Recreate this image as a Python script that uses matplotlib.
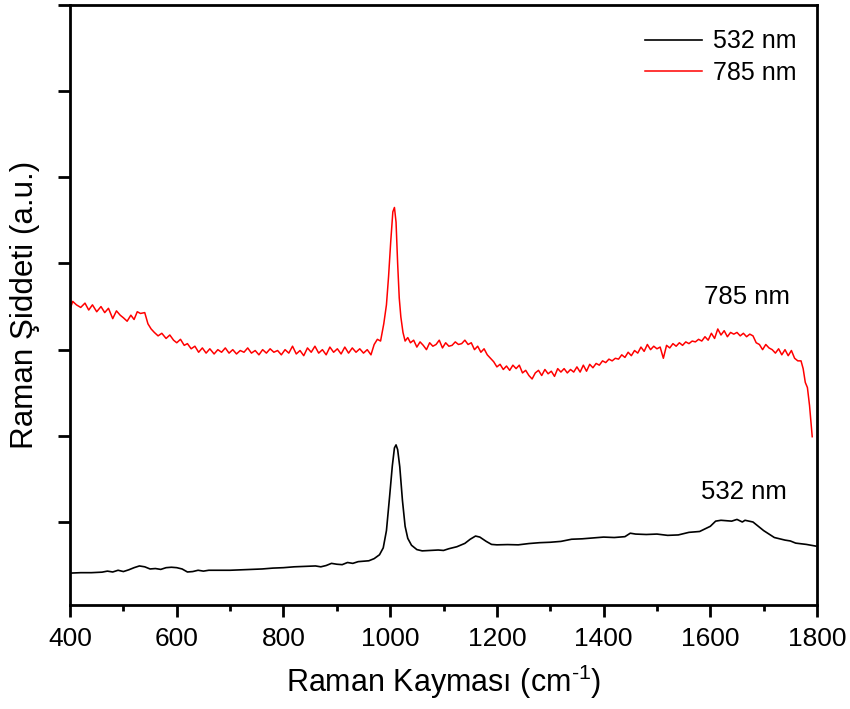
import matplotlib
matplotlib.use('Agg')
from matplotlib import pyplot as plt
from matplotlib.ticker import MultipleLocator, NullFormatter

# 532 nm spectrum (Raman shift cm-1, intensity a.u.)
shift_532 = [400, 420, 440, 460, 470, 480, 490, 500, 510, 520, 530, 540, 550, 560, 570,
             580, 590, 600, 610, 620, 630, 640, 650, 660, 680, 700, 720, 740, 760, 780,
             800, 820, 840, 860, 870, 880, 890, 900, 910, 920, 930, 940, 950, 960, 970,
             980, 987, 993, 999, 1004, 1008, 1011, 1014, 1018, 1023, 1028, 1033, 1040,
             1050, 1060, 1075, 1090, 1100, 1110, 1125, 1140, 1150, 1160, 1168, 1180, 1190,
             1200, 1220, 1240, 1260, 1280, 1300, 1320, 1340, 1360, 1380, 1400, 1420, 1440,
             1450, 1460, 1480, 1500, 1520, 1540, 1560, 1580, 1600, 1610, 1620, 1640, 1650,
             1660, 1665, 1680, 1690, 1700, 1710, 1720, 1740, 1750, 1760, 1780, 1798]
int_532 = [407, 412, 412, 418, 430, 420, 440, 425, 445, 470, 490, 480, 455, 460, 450,
           470, 475, 470, 455, 420, 425, 440, 430, 440, 440, 440, 445, 450, 455, 465,
           470, 480, 485, 490, 480, 495, 520, 510, 505, 530, 520, 540, 545, 550, 575,
           620, 700, 900, 1300, 1650, 1860, 1895, 1840, 1640, 1250, 950, 810, 730,
           680, 665, 670, 675, 670, 690, 713, 752, 800, 837, 825, 775, 740,
           735, 738, 735, 750, 760, 765, 775, 800, 805, 815, 825, 820, 830,
           870, 860, 855, 860, 845, 850, 880, 890, 950, 1010, 1020, 1010, 1030,
           1000, 1020, 1000, 950, 900, 860, 820, 790, 780, 755, 740, 720]

# 785 nm spectrum
shift_785 = [400, 405, 412, 420, 428, 435, 442, 450, 458, 465, 472, 480, 487, 494, 500,
             507, 514, 520, 526, 532, 540, 546, 552, 558, 565, 572, 580, 587, 594, 600,
             607, 614, 620, 627, 634, 641, 648, 655, 662, 670, 677, 684, 691, 698, 705,
             712, 719, 726, 733, 740, 747, 754, 761, 768, 775, 782, 789, 796, 803, 810,
             817, 824, 831, 838, 845, 852, 859, 866, 873, 880, 887, 894, 901, 908, 915,
             922, 929, 936, 943, 950, 957, 964, 970, 976, 982, 988, 993, 997, 1001, 1005,
             1008, 1011, 1014, 1017, 1020, 1024, 1028, 1033, 1038, 1044, 1050, 1056, 1062,
             1068, 1074, 1080, 1086, 1092, 1098, 1104, 1110, 1116, 1122, 1128, 1134, 1140,
             1146, 1152, 1158, 1164, 1170, 1176, 1182, 1188, 1194, 1200, 1206, 1212, 1218,
             1224, 1230, 1236, 1242, 1248, 1254, 1260, 1266, 1272, 1278, 1284, 1290, 1296,
             1302, 1308, 1314, 1320, 1326, 1332, 1338, 1344, 1350, 1356, 1362, 1368, 1374,
             1380, 1386, 1392, 1398, 1404, 1410, 1416, 1422, 1428, 1434, 1440, 1446, 1452,
             1458, 1464, 1470, 1476, 1482, 1488, 1494, 1500, 1506, 1512, 1518, 1524, 1530,
             1536, 1542, 1548, 1554, 1560, 1566, 1572, 1578, 1584, 1590, 1596, 1602, 1608,
             1614, 1620, 1626, 1632, 1638, 1644, 1650, 1656, 1662, 1668, 1674, 1680, 1686,
             1692, 1698, 1704, 1710, 1716, 1722, 1728, 1734, 1740, 1746, 1752, 1758, 1764,
             1770, 1774, 1778, 1782, 1786, 1791]
int_785 = [3470, 3560, 3520, 3490, 3540, 3460, 3520, 3440, 3500, 3430, 3480, 3360, 3450, 3400, 3370,
           3330, 3400, 3350, 3440, 3420, 3430, 3300, 3240, 3200, 3160, 3190, 3130, 3170, 3110, 3080,
           3120, 3050, 3070, 3010, 3040, 2970, 3020, 2960, 3010, 2950, 3000, 2970, 3020, 2960, 3000,
           2950, 2990, 2970, 3020, 2960, 2990, 2940, 3000, 2960, 3010, 2970, 2990, 2940, 3000, 2960,
           3040, 2950, 2990, 2930, 3020, 2970, 3040, 2960, 3000, 2940, 3030, 2970, 3010, 2950, 3030,
           2960, 3020, 2970, 3010, 2960, 3000, 2940, 3060, 3120, 3100, 3300, 3520, 3850, 4250, 4600,
           4650, 4480, 4000, 3600, 3380, 3200, 3100, 3140, 3080, 3110, 3030, 3090, 3050,
           3000, 3080, 3040, 3060, 3110, 3020, 3080, 3040, 3050, 3090, 3060, 3070, 3110,
           3060, 3080, 3000, 3040, 2970, 3010, 2940, 2900, 2860, 2800, 2830, 2770, 2810,
           2760, 2820, 2780, 2820, 2730, 2760, 2700, 2660, 2730, 2760, 2700, 2770, 2720,
           2750, 2690, 2780, 2740, 2780, 2730, 2770, 2740, 2800, 2740, 2820, 2750, 2830,
           2790, 2840, 2820, 2870, 2850, 2890, 2870, 2900, 2890, 2940, 2910, 2970, 2930,
           2990, 2960, 3030, 2980, 3060, 3000, 3040, 3010, 3030, 2900, 3050, 3020, 3070,
           3040, 3080, 3050, 3090, 3070, 3100, 3090, 3120, 3100, 3150, 3110, 3190, 3130,
           3240, 3170, 3220, 3150, 3200, 3180, 3200, 3160, 3190, 3150, 3180, 3160, 3080,
           3060, 3000, 3060, 3020, 3000, 2960, 3010, 2940, 3000, 2930, 2990, 2900, 2870,
           2870, 2780, 2620, 2560, 2350, 1990]

plt.rcParams['font.family'] = ['Liberation Sans', 'DejaVu Sans']
plt.rcParams['mathtext.fontset'] = 'custom'
plt.rcParams['mathtext.rm'] = 'Liberation Sans'

fig = plt.figure(figsize=(8.5, 7.09), dpi=100)
ax = fig.add_axes([0.0824, 0.1467, 0.8788, 0.8463])

ax.plot(shift_532, int_532, color='black', lw=1.2, label='532 nm')
ax.plot(shift_785, int_785, color='red', lw=1.1, label='785 nm')

ax.text(1663, 1350, '532 nm', fontsize=18.5, ha='center', va='center')
ax.text(1669, 3610, '785 nm', fontsize=18.5, ha='center', va='center')

ax.set_xlim(400, 1800)
ax.set_ylim(37, 7000)
ax.xaxis.set_major_locator(MultipleLocator(200))
ax.xaxis.set_minor_locator(MultipleLocator(100))
ax.yaxis.set_major_locator(MultipleLocator(1000))
ax.yaxis.set_major_formatter(NullFormatter())
ax.tick_params(which='major', direction='out', length=8.5, width=2, labelsize=19, pad=7)
ax.tick_params(which='minor', direction='out', length=4, width=2)
for sp in ax.spines.values():
    sp.set_linewidth(2)

ax.set_xlabel('Raman Kayması (cm$^{\\text{-1}}$)', fontsize=22, labelpad=9)
ax.set_ylabel('Raman Şiddeti (a.u.)', fontsize=22.6, labelpad=6)

ax.legend(loc='upper right', bbox_to_anchor=(1.003, 0.997), frameon=False,
          fontsize=18, handlelength=2.3, handletextpad=0.45, labelspacing=0.3)

fig.savefig('out.png', dpi=100)
